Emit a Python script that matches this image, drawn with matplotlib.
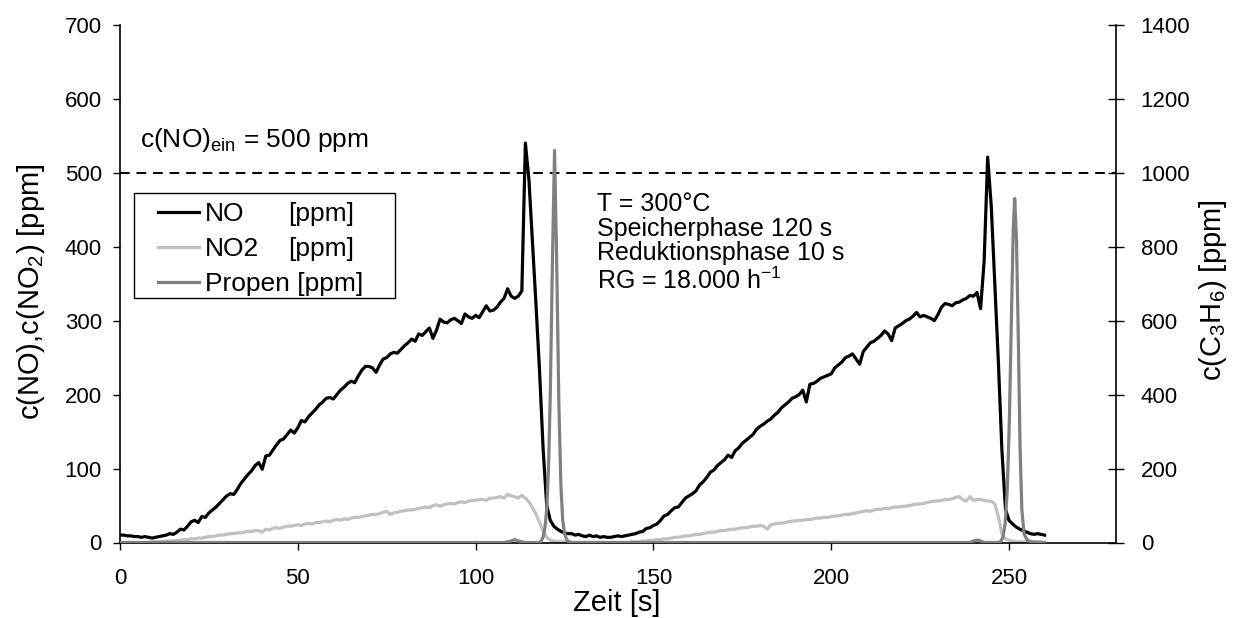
import numpy as np
import matplotlib
matplotlib.use("Agg")
import matplotlib.pyplot as plt
from matplotlib.lines import Line2D
from matplotlib.patches import Rectangle

plt.rcParams['font.family'] = ['Liberation Sans', 'DejaVu Sans']
plt.rcParams['mathtext.fontset'] = 'custom'
plt.rcParams['mathtext.rm'] = 'Liberation Sans'
plt.rcParams['mathtext.it'] = 'Liberation Sans:italic'
plt.rcParams['mathtext.bf'] = 'Liberation Sans:bold'

# ---- data ----
time_s = list(range(0, 261))

no_ppm = [
    10, 10, 9, 9, 8, 8, 7, 8, 7, 6,
    7, 8, 9, 10, 12, 11, 14, 18, 17, 22,
    28, 30, 27, 35, 34, 40, 44, 48, 53, 58,
    63, 66, 65, 72, 80, 86, 92, 97, 104, 108,
    99, 117, 118, 125, 132, 138, 140, 146, 152, 148,
    155, 165, 163, 170, 175, 180, 186, 190, 195, 196,
    194, 200, 206, 210, 215, 218, 216, 225, 233, 238,
    238, 236, 230, 240, 248, 250, 255, 257, 256, 261,
    266, 270, 275, 272, 282, 280, 285, 290, 276, 287,
    302, 298, 297, 301, 303, 300, 296, 309, 305, 303,
    307, 304, 312, 320, 313, 314, 318, 325, 330, 343,
    333, 330, 333, 340, 540, 490, 405, 320, 230, 125,
    50, 30, 22, 18, 15, 13, 12, 12, 10, 11,
    9, 8, 10, 8, 9, 7, 8, 7, 7, 8,
    9, 8, 9, 10, 11, 12, 14, 15, 19, 20,
    23, 25, 30, 36, 38, 43, 47, 48, 54, 60,
    63, 66, 70, 78, 82, 88, 95, 98, 104, 108,
    112, 118, 115, 124, 128, 134, 138, 142, 146, 153,
    157, 160, 164, 167, 172, 176, 182, 186, 190, 195,
    197, 200, 206, 190, 214, 215, 218, 222, 224, 226,
    228, 236, 240, 244, 250, 252, 255, 248, 241, 258,
    264, 270, 272, 276, 280, 286, 282, 273, 290, 293,
    296, 300, 302, 306, 311, 305, 307, 305, 303, 300,
    308, 318, 323, 322, 320, 324, 325, 328, 330, 334,
    333, 338, 316, 380, 521, 455, 350, 245, 125, 45,
    30, 25, 21, 18, 16, 14, 12, 11, 12, 11,
    10,
]

no2_ppm = [
    0, 0, 0, 0, 0, 0, 0, 0, 0, 1,
    1, 1, 1, 2, 2, 2, 3, 3, 4, 4,
    5, 5, 6, 6, 7, 8, 8, 9, 10, 10,
    11, 12, 12, 13, 13, 14, 15, 15, 16, 16,
    14, 18, 17, 19, 20, 19, 21, 22, 22, 23,
    24, 23, 25, 26, 25, 27, 27, 28, 29, 28,
    30, 31, 30, 32, 31, 33, 34, 34, 35, 36,
    37, 38, 38, 39, 41, 42, 38, 40, 41, 42,
    43, 44, 44, 45, 46, 47, 48, 47, 50, 51,
    49, 51, 52, 53, 52, 54, 55, 54, 56, 57,
    57, 58, 58, 57, 60, 60, 61, 62, 60, 65,
    63, 62, 60, 64, 60, 55, 47, 38, 27, 15,
    7, 3, 2, 1, 1, 1, 0, 0, 0, 0,
    0, 0, 0, 0, 0, 0, 0, 0, 0, 0,
    0, 0, 0, 0, 1, 1, 1, 2, 2, 3,
    3, 4, 4, 5, 5, 6, 7, 7, 8, 9,
    9, 10, 11, 11, 12, 13, 14, 14, 15, 16,
    16, 17, 18, 18, 19, 20, 20, 21, 22, 22,
    23, 22, 18, 24, 25, 26, 26, 27, 28, 29,
    29, 30, 30, 31, 31, 32, 33, 33, 34, 34,
    35, 36, 36, 37, 38, 38, 39, 40, 41, 42,
    43, 42, 44, 45, 45, 46, 46, 47, 48, 48,
    49, 49, 50, 51, 52, 52, 53, 54, 55, 56,
    56, 57, 58, 58, 59, 61, 62, 58, 56, 62,
    57, 58, 58, 57, 56, 56, 52, 35, 12, 5,
    3, 2, 1, 1, 1, 0, 0, 0, 0, 0,
    0,
]

propen_time_s = [0, 108, 110, 111, 112, 114, 118, 118.5, 119, 119.5, 120, 120.5,
                 121, 121.6, 122.2, 122.8, 123.4, 124, 124.5, 125, 125.5, 126, 127,
                 130, 239, 240.5, 241.5, 243, 247, 247.7, 248.3, 248.9, 249.5,
                 250.1, 250.7, 251.2, 251.6, 252.1, 252.6, 253.1, 253.6, 254.2,
                 255, 256, 260]
propen_ppm = [0, 0, 4, 8, 4, 0, 0, 5, 15, 40, 90, 200,
              400, 760, 1060, 760, 380, 150, 60, 25, 10, 3, 0,
              0, 0, 6, 6, 0, 0, 3, 15, 50, 140,
              330, 620, 850, 930, 820, 560, 260, 90, 25,
              8, 2, 0]

x_ticks = [0, 50, 100, 150, 200, 250]
y_ticks_left = [0, 100, 200, 300, 400, 500, 600, 700]
y_ticks_right = [0, 200, 400, 600, 800, 1000, 1200, 1400]
no_inlet = 500

series_names = ['NO', 'NO2', 'Propen']
series_units = ['[ppm]', '[ppm]', '[ppm]']
series_colors = ['black', '#c0c0c0', '#808080']

W, H = 1235, 618

def fx(px):
    return px / W

def fy(py):
    return 1 - py / H

# ---- figure ----
fig = plt.figure(figsize=(12.35, 6.18), dpi=100)
ax = fig.add_axes([fx(120), fy(542.5), (1115.7 - 120) / W, (542.5 - 24.7) / H])
ax2 = ax.twinx()

ax.axhline(no_inlet, color='black', lw=1.4, ls=(0, (5, 3.5)), zorder=1)
ax.plot(time_s, no2_ppm, color=series_colors[1], lw=2.3, zorder=2)
ax.plot(time_s, no_ppm, color=series_colors[0], lw=2.3, zorder=3)
ax2.plot(propen_time_s, propen_ppm, color=series_colors[2], lw=2.3)

ax.set_xlim(0, 280)
ax.set_ylim(0, 700)
ax2.set_ylim(0, 1400)
ax.set_xticks(x_ticks)
ax.set_yticks(y_ticks_left)
ax2.set_yticks(y_ticks_right)

for a in (ax, ax2):
    a.spines['top'].set_visible(False)
    for s in a.spines.values():
        s.set_linewidth(1.2)
ax.spines['right'].set_visible(False)
ax2.spines['left'].set_visible(False)
ax2.spines['bottom'].set_visible(False)

ax.tick_params(axis='x', direction='out', length=5, width=1.0, labelsize=16, pad=13)
ax.tick_params(axis='y', direction='out', length=5, width=1.0, labelsize=16, pad=8)
ax2.tick_params(axis='y', direction='inout', length=12, width=1.0, labelsize=16, pad=12)

# axis titles
fig.text(fx(617), fy(603), 'Zeit [s]', fontsize=21, ha='center', va='center')
fig.text(fx(31), fy(292), r'c(NO),c(NO$_2$) [ppm]', fontsize=21, ha='center', va='center',
         rotation=90)
fig.text(fx(1213), fy(290), r'c(C$_3$H$_6$) [ppm]', fontsize=21, ha='center', va='center',
         rotation=90)

ax.text(5.5, 535, r'c(NO)$_{\mathrm{ein}}$ = 500 ppm', fontsize=19, va='baseline', ha='left')

ann_lines = ['T = 300°C', 'Speicherphase 120 s', 'Reduktionsphase 10 s',
             r'RG = 18.000 h$^{\mathrm{-1}}$']
ann_y = [448, 415, 382, 343]
for txt, yy in zip(ann_lines, ann_y):
    ax.text(134, yy, txt, fontsize=18, va='baseline', ha='left')

# legend (box with line samples and labels)
fig.patches.append(Rectangle((fx(134.3), fy(298.3)), (395.3 - 134.3) / W, (298.3 - 193.3) / H,
                             transform=fig.transFigure, facecolor='white',
                             edgecolor='black', lw=1.0, zorder=5))
row_y = [211.7, 246.7, 281.7]
for name, unit, col, ry in zip(series_names, series_units, series_colors, row_y):
    fig.add_artist(Line2D([fx(158), fx(199)], [fy(ry), fy(ry)], transform=fig.transFigure,
                          color=col, lw=2.3, zorder=6))
    if name == 'Propen':
        fig.text(fx(205), fy(ry), name + ' ' + unit, fontsize=19, ha='left',
                 va='center_baseline', zorder=6)
    else:
        fig.text(fx(205), fy(ry), name, fontsize=19, ha='left', va='center_baseline', zorder=6)
        fig.text(fx(288), fy(ry), unit, fontsize=19, ha='left', va='center_baseline', zorder=6)

fig.savefig('out.png', dpi=100)
